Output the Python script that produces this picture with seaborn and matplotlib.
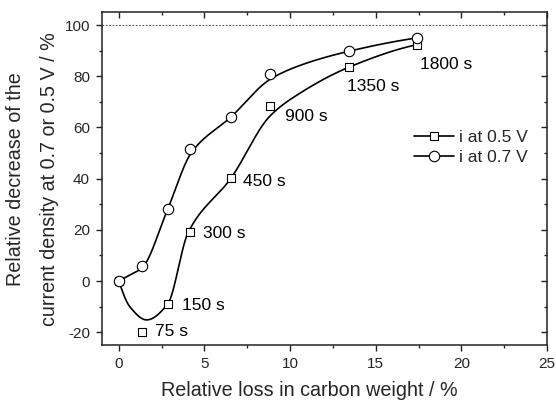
import numpy as np
import pandas as pd
import matplotlib
matplotlib.use("Agg")
import matplotlib.pyplot as plt
from matplotlib.lines import Line2D
from matplotlib.ticker import MultipleLocator
import seaborn as sns

# ---- data ----
carbon_loss = [0.0, 1.36, 2.85, 4.15, 6.55, 8.83, 13.45, 17.43]
i_05V = [0.0, -20.0, -9.0, 19.3, 40.2, 68.2, 83.6, 92.4]
i_07V = [0.0, 5.8, 28.1, 51.4, 64.1, 81.0, 89.8, 95.0]
time_labels = ["75 s", "150 s", "300 s", "450 s", "900 s", "1350 s", "1800 s"]
label_x = [2.12, 3.67, 4.89, 7.23, 9.71, 13.32, 17.56]
label_y = [-19.8, -9.4, 18.4, 38.8, 64.2, 76.2, 84.6]

# guide points of the smooth connecting curves
curve05_x = [0.0, 0.64, 1.62, 2.85, 4.05, 6.55, 8.83, 10.6, 13.45, 17.43]
curve05_y = [0.0, -10.0, -15.2, -9.0, 19.0, 40.2, 64.5, 73.5, 83.6, 92.4]
curve07_x = [0.0, 0.6, 1.36, 2.85, 4.25, 6.55, 8.83, 10.6, 13.45, 17.43]
curve07_y = [0.0, 2.2, 5.2, 28.1, 50.3, 64.1, 78.8, 84.3, 89.8, 95.0]

series_labels = ["i at 0.5 V", "i at 0.7 V"]


def pchip(x, y, num=500):
    x = np.asarray(x, float)
    y = np.asarray(y, float)
    h = np.diff(x)
    d = np.diff(y) / h
    n = len(x)
    m = np.zeros(n)
    for k in range(1, n - 1):
        if d[k - 1] * d[k] > 0:
            w1 = 2 * h[k] + h[k - 1]
            w2 = h[k] + 2 * h[k - 1]
            m[k] = (w1 + w2) / (w1 / d[k - 1] + w2 / d[k])

    def edge(h0, h1, d0, d1):
        e = ((2 * h0 + h1) * d0 - h0 * d1) / (h0 + h1)
        if np.sign(e) != np.sign(d0):
            e = 0.0
        elif np.sign(d0) != np.sign(d1) and abs(e) > abs(3 * d0):
            e = 3 * d0
        return e

    m[0] = edge(h[0], h[1], d[0], d[1])
    m[-1] = edge(h[-1], h[-2], d[-1], d[-2])
    xs = np.linspace(x[0], x[-1], num)
    idx = np.clip(np.searchsorted(x, xs) - 1, 0, n - 2)
    t = (xs - x[idx]) / h[idx]
    h00 = 2 * t ** 3 - 3 * t ** 2 + 1
    h10 = t ** 3 - 2 * t ** 2 + t
    h01 = -2 * t ** 3 + 3 * t ** 2
    h11 = t ** 3 - t ** 2
    ys = (h00 * y[idx] + h10 * h[idx] * m[idx] + h01 * y[idx + 1]
          + h11 * h[idx] * m[idx + 1])
    return xs, ys


sns.set_theme(style="ticks")
plt.rcParams["font.family"] = ["Liberation Sans", "DejaVu Sans"]
plt.rcParams["axes.unicode_minus"] = False

fig = plt.figure(figsize=(5.56, 4.0), dpi=100)
ax = fig.add_axes([101.7 / 556, 1 - 345 / 400, (547 - 101.7) / 556, (345 - 12.3) / 400])

# reference line at 100 %
ax.axhline(100, color="#555555", lw=0.8, ls=(0, (1.5, 1.5)), zorder=1)

for cx, cy in [(curve05_x, curve05_y), (curve07_x, curve07_y)]:
    xs, ys = pchip(cx, cy)
    sns.lineplot(x=xs, y=ys, sort=False, estimator=None, color="black",
                 lw=1.2, ax=ax, zorder=2)

df = pd.DataFrame({"loss": carbon_loss, "i05": i_05V, "i07": i_07V})
sns.scatterplot(data=df, x="loss", y="i05", marker="s", s=36, facecolor="white",
                edgecolor="black", linewidth=0.8, ax=ax, zorder=3)
sns.scatterplot(data=df, x="loss", y="i07", marker="o", s=56, facecolor="white",
                edgecolor="black", linewidth=0.8, ax=ax, zorder=3)

for txt, lx, ly in zip(time_labels, label_x, label_y):
    ax.text(lx, ly, txt, ha="left", va="center", fontsize=12.5, color="black")

ax.set_xlim(-1, 25)
ax.set_ylim(-25, 105)
ax.xaxis.set_major_locator(MultipleLocator(5))
ax.xaxis.set_minor_locator(MultipleLocator(2.5))
ax.yaxis.set_major_locator(MultipleLocator(20))
ax.yaxis.set_minor_locator(MultipleLocator(10))

for sp in ax.spines.values():
    sp.set_visible(True)
    sp.set_color("#222222")
    sp.set_linewidth(1.1)

ax.tick_params(which="both", direction="out", bottom=True, left=True,
               top=False, right=False, color="#222222", width=1.0,
               labelsize=11, pad=4.5)
ax.tick_params(which="major", length=4)
ax.tick_params(which="minor", length=2.5)

# mirrored inward ticks on top and right
secx = ax.secondary_xaxis("top")
secx.xaxis.set_major_locator(MultipleLocator(5))
secx.xaxis.set_minor_locator(MultipleLocator(2.5))
secx.tick_params(which="both", direction="in", labeltop=False, color="#222222", width=1.0)
secx.tick_params(which="major", length=4)
secx.tick_params(which="minor", length=2.5)
secx.spines["top"].set_visible(False)
secy = ax.secondary_yaxis("right")
secy.yaxis.set_major_locator(MultipleLocator(20))
secy.yaxis.set_minor_locator(MultipleLocator(10))
secy.tick_params(which="both", direction="in", labelright=False, color="#222222", width=1.0)
secy.tick_params(which="major", length=4)
secy.tick_params(which="minor", length=2.5)
secy.spines["right"].set_visible(False)

ax.set_xlabel("Relative loss in carbon weight / %", fontsize=14.2)
ax.xaxis.set_label_coords((309 - 101.7) / 445.3, (345 - 380.6) / 332.7)
ax.set_ylabel("Relative decrease of the\ncurrent density at 0.7 or 0.5 V / %",
              fontsize=14.2, linespacing=2.0)
ax.yaxis.set_label_coords((59.5 - 101.7) / 445.3, 0.5)

handles = [
    Line2D([], [], color="black", lw=1.2, marker="s", markersize=6,
           markerfacecolor="white", markeredgecolor="black", markeredgewidth=0.8),
    Line2D([], [], color="black", lw=1.2, marker="o", markersize=7.5,
           markerfacecolor="white", markeredgecolor="black", markeredgewidth=0.8),
]
ax.legend(handles, series_labels, loc="center left",
          bbox_to_anchor=((414 - 101.7) / 445.3, (345 - 147.5) / 332.7),
          frameon=False, fontsize=12.5, handlelength=2.3, handletextpad=0.3,
          labelspacing=0.3, borderpad=0, borderaxespad=0)

fig.savefig("out.png", dpi=100)
